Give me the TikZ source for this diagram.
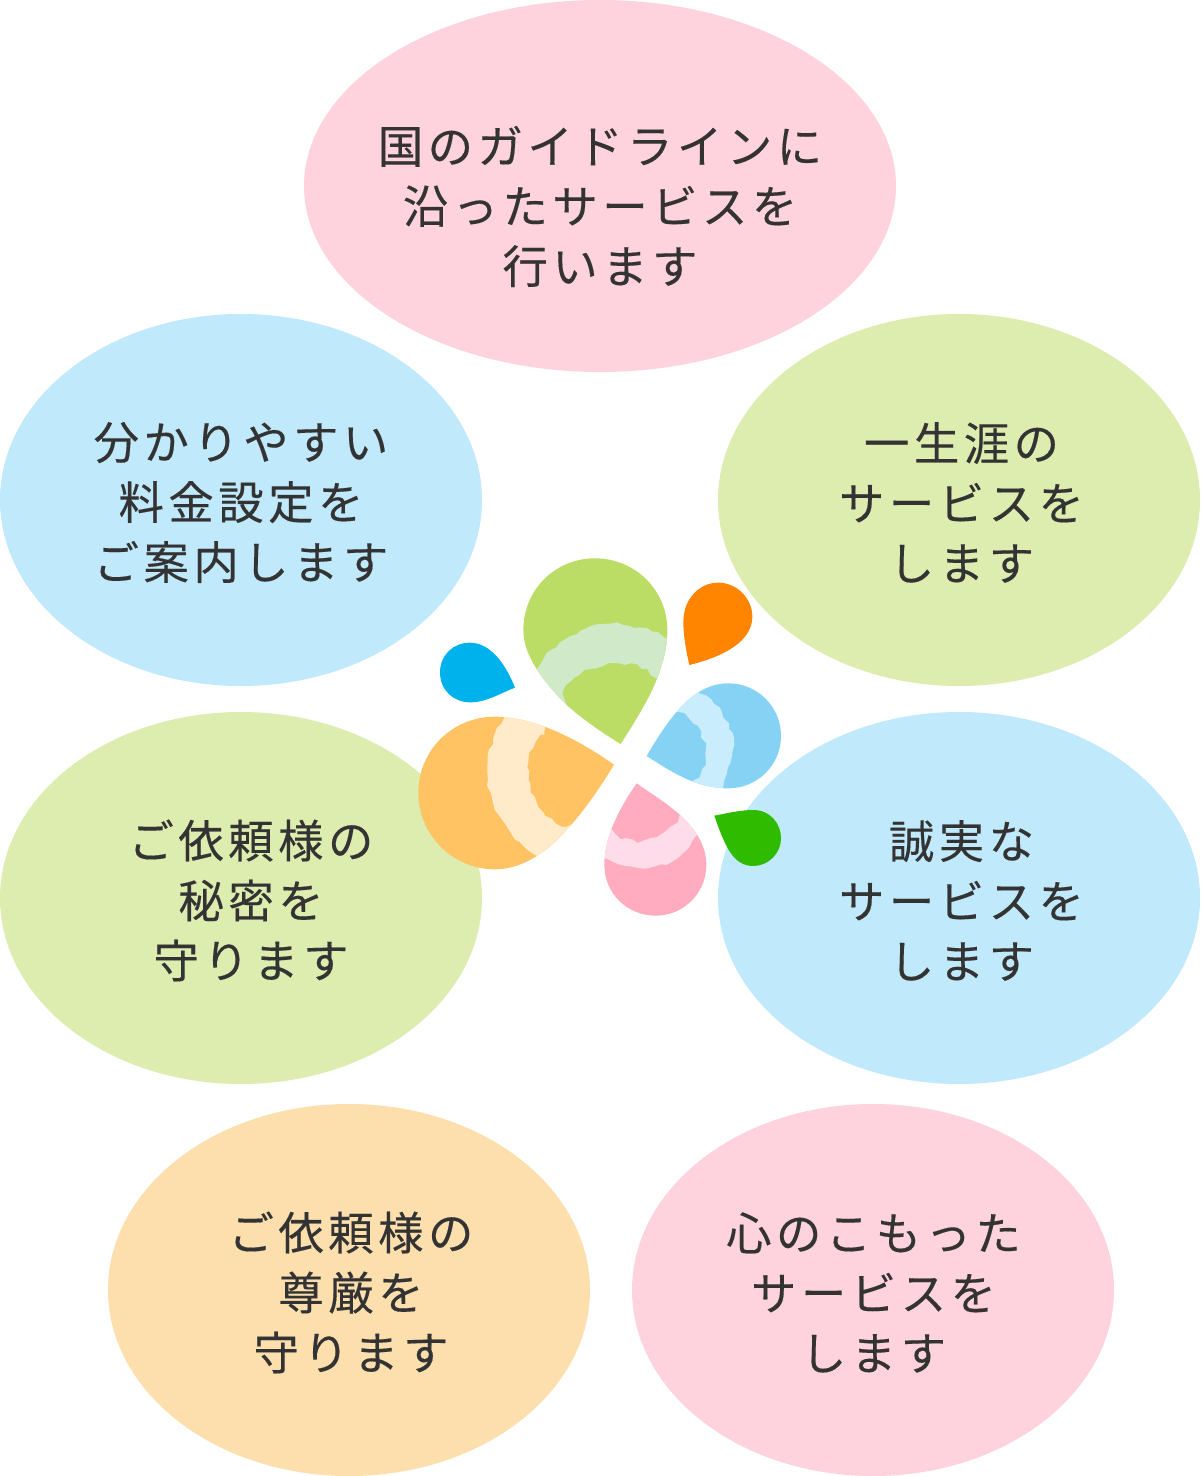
\documentclass[tikz,border=0pt]{standalone}
\usepackage{fontspec}
\setmainfont{Noto Sans CJK JP}[LetterSpace=10,FakeBold=0.3]
\usetikzlibrary{shapes.geometric,decorations.pathmorphing}
\definecolor{epink}{HTML}{FFD3DE}
\definecolor{eblue}{HTML}{C0E9FB}
\definecolor{egreen}{HTML}{DDEDB0}
\definecolor{epeach}{HTML}{FDDFAE}
\definecolor{txt}{HTML}{333333}
\tikzset{
  bubble/.style={ellipse,draw=none,inner sep=0pt,minimum width=482*0.75pt,minimum height=372*0.75pt},
  saying/.style={align=center,text=txt,font=\fontsize{34}{45}\selectfont,inner sep=0pt},
  band/.style={decorate,decoration={random steps,segment length=4.5pt,amplitude=1.3pt}}
}
\begin{document}
\begin{tikzpicture}[x=0.75pt,y=-0.75pt]
\pgfmathsetseed{7}
\useasboundingbox (0,0) rectangle (1200,1476);
\fill[white] (0,0) rectangle (1200,1476);
\node[bubble,fill=epink,minimum width=592*0.75pt] (top) at (600,186) {};
\node[bubble,fill=eblue] (l1) at (241,500) {};
\node[bubble,fill=egreen] (r1) at (959,500) {};
\node[bubble,fill=egreen] (l2) at (241,898) {};
\node[bubble,fill=eblue] (r2) at (959,898) {};
\node[bubble,fill=epeach] (b1) at (349,1290) {};
\node[bubble,fill=epink] (b2) at (873,1290) {};
\node[saying] (ttop) at (600,206.5) {国のガイドラインに\\沿ったサービスを\\行います};
\node[saying] (tl1) at (241,502.5) {分かりやすい\\料金設定を\\ご案内します};
\node[saying] (tr1) at (961.5,502.5) {一生涯の\\サービスを\\します};
\node[saying] (tl2) at (251,900.5) {ご依頼様の\\秘密を\\守ります};
\node[saying] (tr2) at (961.5,900.5) {誠実な\\サービスを\\します};
\node[saying] (tb1) at (351,1292.5) {ご依頼様の\\尊厳を\\守ります};
\node[saying] (tb2) at (873.5,1292.5) {心のこもった\\サービスを\\します};
\begin{scope}[shift={(410,550)},x=0.25pt,y=-0.25pt]
% green big
\def\pathgreen{(632,582) .. controls (690,490) and (772,370) .. (772,240) .. controls (772,120) and (675,25) .. (555,25) .. controls (435,25) and (340,120) .. (340,240) .. controls (340,300) and (375,370) .. (470,465) .. controls (520,510) and (580,550) .. (632,582) -- cycle}
\definecolor{c1}{HTML}{BBDC65}\definecolor{c2}{HTML}{D0E9C8}
\fill[c1] \pathgreen;
\begin{scope}\clip \pathgreen;
\fill[c2,band] (340,340)--(378,360) .. controls (420,290) and (510,225) .. (603,222) .. controls (660,222) and (720,240) .. (790,268)--(770,392)--(740,385) .. controls (700,350) and (660,338) .. (610,340) .. controls (540,345) and (470,390) .. (460,432)--(470,465)--(440,490)--cycle;
\end{scope}
% orange big
\def\pathorange{(612,644) .. controls (560,730) and (500,815) .. (430,880) .. controls (380,925) and (320,958) .. (255,958) .. controls (128,958) and (25,855) .. (25,728) .. controls (25,600) and (128,500) .. (255,500) .. controls (370,500) and (500,565) .. (612,644) -- cycle}
\definecolor{c1}{HTML}{FFC363}\definecolor{c2}{HTML}{FFEBC9}
\fill[c1] \pathorange;
\begin{scope}\clip \pathorange;
\fill[c2,band] (283,480)--(283,503) .. controls (235,580) and (215,680) .. (250,760) .. controls (270,820) and (320,880) .. (378,915)--(410,950)--(515,830)--(490,820)--(455,830) .. controls (400,800) and (345,720) .. (355,640) .. controls (358,600) and (375,570) .. (403,555)--(405,530)--(405,500)--cycle;
\end{scope}
% blue big
\def\pathblue{(710,618) .. controls (770,655) and (850,715) .. (955,715) .. controls (1042,715) and (1113,645) .. (1113,558) .. controls (1113,470) and (1042,400) .. (955,400) .. controls (860,400) and (790,480) .. (710,618) -- cycle}
\definecolor{c1}{HTML}{85D2F5}\definecolor{c2}{HTML}{C9EDFC}
\fill[c1] \pathblue;
\begin{scope}\clip \pathblue;
\fill[c2,band] (850,410)--(868,430) .. controls (920,450) and (975,530) .. (968,600) .. controls (965,640) and (950,660) .. (940,713)--(935,735)--(835,710)--(852,690) .. controls (880,670) and (890,630) .. (887,600) .. controls (880,550) and (840,490) .. (800,490)--(780,470)--cycle;
\end{scope}
% pink big
\def\pathpink{(680,700) .. controls (740,745) and (889,820) .. (889,945) .. controls (889,1030) and (820,1097) .. (737,1097) .. controls (652,1097) and (583,1030) .. (583,945) .. controls (583,870) and (620,785) .. (680,700) -- cycle}
\definecolor{c1}{HTML}{FFABC0}\definecolor{c2}{HTML}{FFDCEA}
\fill[c1] \pathpink;
\begin{scope}\clip \pathpink;
\fill[c2,band] (585,835)--(607,840) .. controls (640,880) and (700,880) .. (740,860) .. controls (770,845) and (795,825) .. (805,800)--(830,780)--(885,840)--(860,855) .. controls (840,900) and (780,950) .. (700,955) .. controls (660,958) and (620,940) .. (590,925)--(565,925)--cycle;
\end{scope}
% small ones
\definecolor{c1}{HTML}{FF8500}
\fill[c1] (838,345) .. controls (900,330) and (1027,290) .. (1027,200) .. controls (1027,145) and (980,98) .. (925,98) .. controls (865,98) and (820,150) .. (820,215) .. controls (820,260) and (830,310) .. (838,345) -- cycle;
\definecolor{c1}{HTML}{00B2EC}
\fill[c1] (315,413) .. controls (270,430) and (230,457) .. (180,457) .. controls (130,457) and (90,420) .. (90,367) .. controls (90,315) and (130,278) .. (180,278) .. controls (245,278) and (290,350) .. (315,413) -- cycle;
\definecolor{c1}{HTML}{2FBC00}
\fill[c1] (913,797) .. controls (950,790) and (990,780) .. (1030,780) .. controls (1080,780) and (1113,820) .. (1113,865) .. controls (1113,910) and (1075,948) .. (1030,948) .. controls (970,948) and (945,890) .. (913,797) -- cycle;
\end{scope}
\end{tikzpicture}
\end{document}
